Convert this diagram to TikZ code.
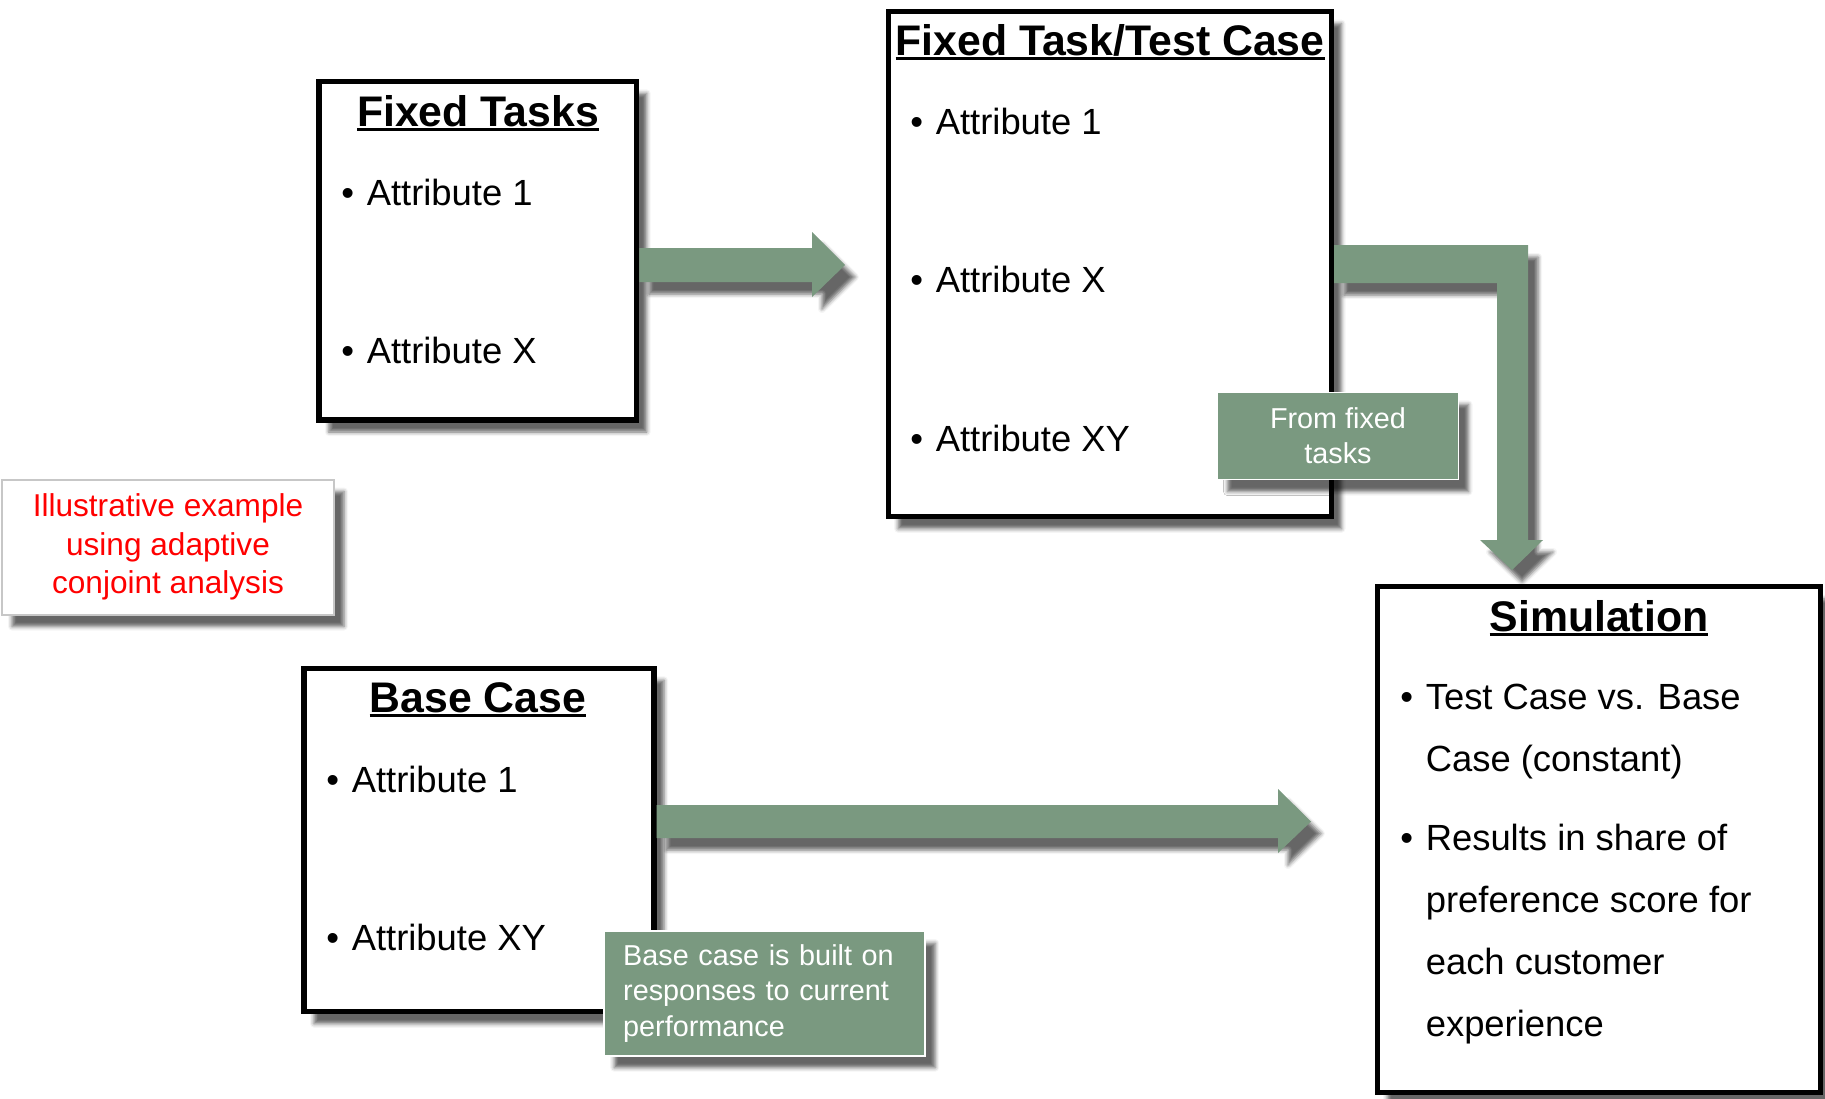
\documentclass[tikz,border=0pt]{standalone}
\usepackage{fontspec}
\setmainfont{Liberation Sans}
\usetikzlibrary{shadows.blur}
\definecolor{arrowgreen}{RGB}{122,153,128}
\newcommand{\titleline}[1]{\setbox0\hbox{#1}\rlap{\rule[-2.5pt]{\wd0}{1.5pt}}\box0}
\newcommand{\itembul}{\makebox[12.7pt][l]{•}}
\tikzset{softshadow/.style = {blur shadow = {shadow xshift = 5pt, shadow yshift = -6pt,
                                             shadow blur radius = 2pt, shadow opacity = 60}}}
\tikzset{box/.style = {draw, line width = 2.6pt, fill = white, softshadow}}
\tikzset{note/.style = {draw = white, line width = 0.8pt, fill = arrowgreen, text = white, softshadow}}
\tikzset{blockarrow/.style = {fill = arrowgreen, softshadow}}
\tikzset{heading/.style = {anchor = base, inner sep = 0, font = \fontsize{21.4}{25}\selectfont\bfseries}}
\tikzset{item/.style = {anchor = base west, inner sep = 0, font = \fontsize{18.2}{31}\selectfont}}

\begin{document}
\begin{tikzpicture}[x = 0.5pt, y = -0.5pt]
  \useasboundingbox (0, 0) rectangle (1825, 1098);

  \node [box, minimum width = 158.9pt, minimum height = 169.3pt] (ft) at (477.8, 250.7) {};
  \node [box, minimum width = 221.7pt, minimum height = 252.6pt] (tc) at (1109.8, 264.2) {};
  \node [box, minimum width = 221.5pt, minimum height = 253pt] (sim) at (1598.7, 839.8) {};
  \node [box, minimum width = 175pt, minimum height = 171.75pt] (bc) at (479, 840) {};
  \node [draw = black!22, line width = 1pt, fill = white, softshadow, minimum width = 166pt,
         minimum height = 67.5pt, align = center, text = red,
         font = \fontsize{15.8}{19.4}\selectfont] (illus) at (168, 547)
        {Illustrative example\\using adaptive\\conjoint analysis};

  \fill [blockarrow] (ft.east |- 0, 248) -- (812, 248) -- (812, 232) -- (845, 265)
        -- (812, 297) -- (812, 282) -- (ft.east |- 0, 282) -- cycle;
  \fill [blockarrow] (tc.east |- 0, 245) -- (1528, 245) -- (1528, 540) -- (1543, 540)
        -- (1512, 570) -- (1480, 540) -- (1497, 540) -- (1497, 283)
        -- (tc.east |- 0, 283) -- cycle;
  \fill [blockarrow] (bc.east |- 0, 805) -- (1278, 805) -- (1278, 789) -- (1311, 821.5)
        -- (1278, 853) -- (1278, 838) -- (bc.east |- 0, 838) -- cycle;

  \node [heading] (fttitle) at (478, 126) {\titleline{Fixed Tasks}};
  \node [heading] (tctitle) at (1110, 55) {\titleline{Fixed Task/Test Case}};
  \node [heading] (simtitle) at (1599, 631) {\titleline{Simulation}};
  \node [heading] (bctitle) at (478, 712) {\titleline{Base Case}};

  \node [item] (ft1) at (341, 205) {\itembul Attribute 1};
  \node [item] (ftx) at (341, 363) {\itembul Attribute X};
  \node [item] (tc1) at (910, 134) {\itembul Attribute 1};
  \node [item] (tcx) at (910, 292) {\itembul Attribute X};
  \node [item] (tcxy) at (910, 451) {\itembul Attribute XY};
  \node [item] (bc1) at (326, 792) {\itembul Attribute 1};
  \node [item] (bcxy) at (326, 950) {\itembul Attribute XY};
  \node [item, anchor = north west, align = left] (simcase) at (1400, 684)
        {\itembul Test Case vs. Base\\\hspace*{12.7pt}Case (constant)};
  \node [item, anchor = north west, align = left] (simres) at (1400, 824)
        {\itembul Results in share of\\\hspace*{12.7pt}preference score for\\
         \hspace*{12.7pt}each customer\\\hspace*{12.7pt}experience};

  \node [note, minimum width = 120.5pt, minimum height = 43.6pt, align = center,
         font = \fontsize{14.4}{17.5}\selectfont] (fromft) at (1338, 436)
        {From fixed\\tasks};
  \node [note, text width = 141.5pt, inner xsep = 9.5pt, minimum height = 62.3pt,
         align = left, font = \fontsize{14.4}{17.75}\selectfont] (bcnote) at (764.7, 993.4)
        {Base case is built on responses to current performance};
\end{tikzpicture}
\end{document}
